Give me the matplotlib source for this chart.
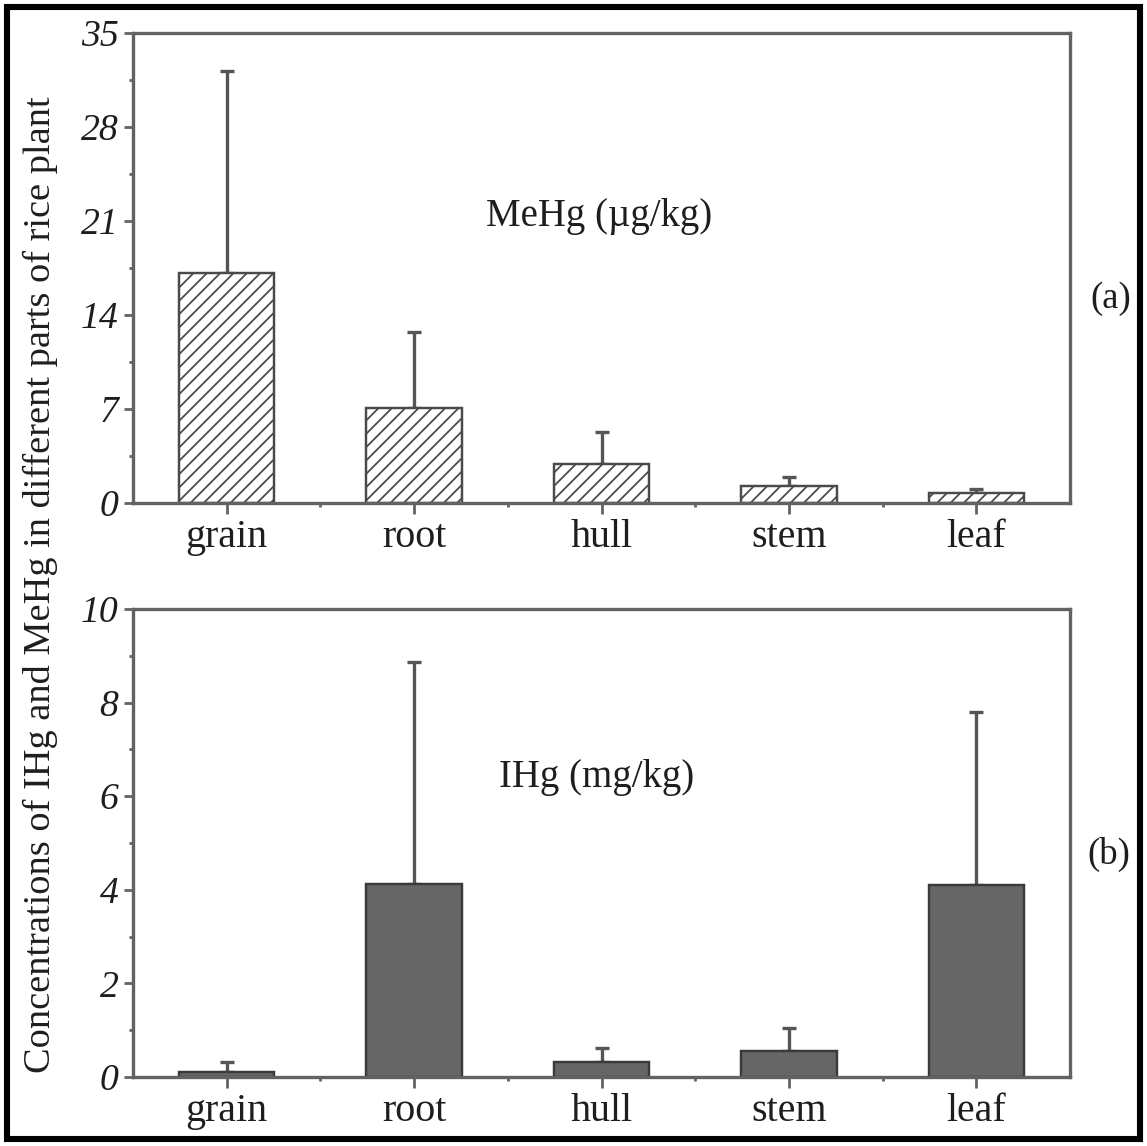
import numpy as np
import matplotlib
matplotlib.use("Agg")
import matplotlib.pyplot as plt
from matplotlib.patches import Rectangle
from matplotlib.ticker import MultipleLocator, FixedLocator

plt.rcParams['font.family'] = ['Liberation Serif', 'DejaVu Serif']
plt.rcParams['hatch.color'] = '#555555'
plt.rcParams['hatch.linewidth'] = 1.6

parts = ['grain', 'root', 'hull', 'stem', 'leaf']
mehg = [17.1, 7.1, 2.9, 1.25, 0.75]
mehg_err = [15.1, 5.6, 2.4, 0.65, 0.3]
ihg = [0.11, 4.12, 0.31, 0.56, 4.1]
ihg_err = [0.21, 4.75, 0.32, 0.48, 3.7]

W, H, DPI = 1147, 1146, 80
fig = plt.figure(figsize=(W / DPI, H / DPI), dpi=DPI)

axis_col = '#626262'
text_col = '#1e1e1e'
x = np.arange(1, 6)


def style(ax, ymax, major, minor):
    for s in ax.spines.values():
        s.set_color(axis_col)
        s.set_linewidth(3)
    ax.set_xlim(0.5, 5.5)
    ax.set_ylim(0, ymax)
    ax.yaxis.set_major_locator(MultipleLocator(major))
    ax.yaxis.set_minor_locator(MultipleLocator(minor))
    ax.set_xticks(x)
    ax.set_xticklabels(parts)
    ax.xaxis.set_minor_locator(FixedLocator(x[:-1] + 0.5))
    ax.tick_params(axis='both', which='major', direction='out', color=axis_col,
                   width=2.5, length=8, labelcolor=text_col)
    ax.tick_params(axis='both', which='minor', direction='out', color=axis_col,
                   width=2.5, length=4)
    ax.tick_params(axis='x', which='major', labelsize=36, pad=4, length=10)
    ax.tick_params(axis='y', which='major', labelsize=34, pad=5)
    for lab in ax.get_yticklabels():
        lab.set_fontstyle('italic')


# (a) MeHg
ax1 = fig.add_axes([133 / W, 1 - 503 / H, 937 / W, 470 / H])
ax1.bar(x, mehg, width=0.51, color='white', edgecolor='#4a4a4a',
        linewidth=2.2, hatch='//', zorder=2)
ax1.errorbar(x, mehg, yerr=[np.zeros(5), mehg_err], fmt='none',
             ecolor='#555555', elinewidth=3, capsize=6, capthick=3, zorder=1)
style(ax1, 35, 7, 3.5)
ax1.text(0.497, 0.61, 'MeHg (\u00b5g/kg)', transform=ax1.transAxes,
         ha='center', va='center', fontsize=35, color=text_col)
ax1.text(1.043, 0.435, '(a)', transform=ax1.transAxes,
         ha='center', va='center', fontsize=33, color=text_col)

# (b) IHg
ax2 = fig.add_axes([133 / W, 1 - 1077 / H, 937 / W, 468 / H])
ax2.bar(x, ihg, width=0.51, color='#666666', edgecolor='#3a3a3a',
        linewidth=2.2, zorder=2)
ax2.errorbar(x, ihg, yerr=[np.zeros(5), ihg_err], fmt='none',
             ecolor='#555555', elinewidth=3, capsize=6, capthick=3, zorder=1)
style(ax2, 10, 2, 1)
ax2.text(0.495, 0.64, 'IHg (mg/kg)', transform=ax2.transAxes,
         ha='center', va='center', fontsize=35, color=text_col)
ax2.text(1.041, 0.475, '(b)', transform=ax2.transAxes,
         ha='center', va='center', fontsize=33, color=text_col)

fig.text(40 / W, 1 - 585 / H,
         'Concentrations of IHg and MeHg in different parts of rice plant',
         rotation=90, ha='center', va='center', fontsize=34.5, color=text_col)

# black frame around the whole picture
fig.patches.append(Rectangle((7 / W, 7 / H), 1 - 14 / W, 1 - 14 / H,
                             transform=fig.transFigure, fill=False,
                             edgecolor='black', linewidth=5.5))

fig.savefig('out.png', dpi=DPI)
